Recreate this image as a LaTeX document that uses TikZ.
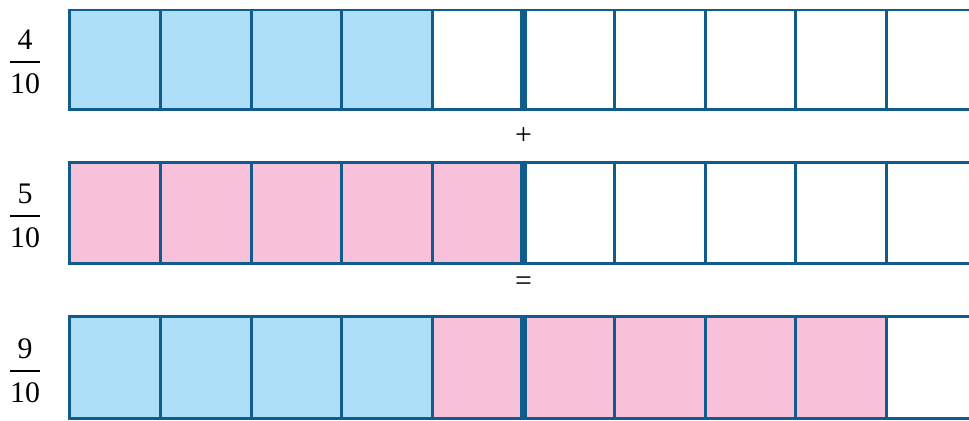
\documentclass[tikz,border=0pt]{standalone}
\usepackage{fontspec}
\setmainfont{Liberation Serif}
\usetikzlibrary{positioning}
\definecolor{gridblue}{RGB}{16,92,140}
\definecolor{partblue}{RGB}{173,223,249}
\definecolor{partpink}{RGB}{246,193,217}

\begin{document}
\begin{tikzpicture}[x=0.02cm, y=-0.02cm,
    cell/.style={draw=gridblue, line width=1.7pt},
    half/.style={draw=gridblue, line width=4pt},
    num/.style={inner sep=0pt, font=\fontsize{17}{20}\selectfont}]
    \useasboundingbox (0,0) rectangle (969,420);
    \clip (0,0) rectangle (969,420);

    % Fractions
    \node[num] (numA) at (25,40) {4};
    \node[num] (denA) at (25,84) {10};
    \draw[line width=0.8pt] (10,62) -- (40,62);
    \node[num] (numB) at (25,194) {5};
    \node[num] (denB) at (25,238) {10};
    \draw[line width=0.8pt] (10,216) -- (40,216);
    \node[num] (numC) at (25,349) {9};
    \node[num] (denC) at (25,393) {10};
    \draw[line width=0.8pt] (10,371) -- (40,371);

    % Signs
    \node[num] (plus) at (523.5,136) {+};
    \node[num] (equals) at (523.5,284) {=};

    % Row 1
    \foreach \i in {0,...,3}
        \fill[partblue] (69.5+90.8*\i,10) rectangle ++(90.8,99.5);
    \draw[cell] (69.5,10) rectangle (977.5,109.5);
    \foreach \i in {1,...,9}
        \draw[cell] (69.5+90.8*\i,10) -- ++(0,99.5);
    \draw[half] (523.5,10) -- (523.5,109.5);

    % Row 2
    \foreach \i in {0,...,4}
        \fill[partpink] (69.5+90.8*\i,162) rectangle ++(90.8,101);
    \draw[cell] (69.5,162) rectangle (977.5,263);
    \foreach \i in {1,...,9}
        \draw[cell] (69.5+90.8*\i,162) -- ++(0,101);
    \draw[half] (523.5,162) -- (523.5,263);

    % Row 3
    \foreach \i in {0,...,3}
        \fill[partblue] (69.5+90.8*\i,316) rectangle ++(90.8,102.5);
    \foreach \i in {4,...,8}
        \fill[partpink] (69.5+90.8*\i,316) rectangle ++(90.8,102.5);
    \draw[cell] (69.5,316) rectangle (977.5,418.5);
    \foreach \i in {1,...,9}
        \draw[cell] (69.5+90.8*\i,316) -- ++(0,102.5);
    \draw[half] (523.5,316) -- (523.5,418.5);
\end{tikzpicture}
\end{document}
